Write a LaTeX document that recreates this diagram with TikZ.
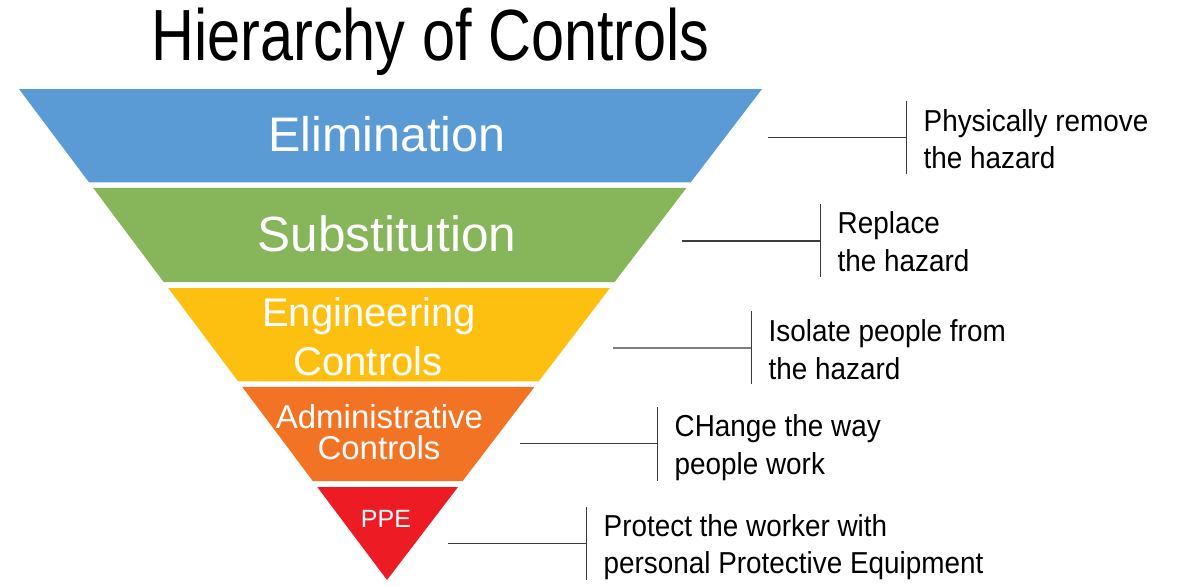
\documentclass[tikz,border=0pt]{standalone}
\usepackage{fontspec}
\setmainfont{Liberation Sans}
\newfontfamily\narrowfont[FakeStretch=0.92]{Liberation Sans}
\newfontfamily\titlefont[FakeStretch=0.82]{Liberation Sans}
\usetikzlibrary{calc}
\definecolor{elimblue}{HTML}{5B9BD5}
\definecolor{substgreen}{HTML}{87B55A}
\definecolor{engyellow}{HTML}{FDC011}
\definecolor{admorange}{HTML}{F37324}
\definecolor{ppered}{HTML}{ED1C24}
\definecolor{linegray}{HTML}{3C3C3C}
\definecolor{lightline}{HTML}{7F7F7F}
\newcommand\drawband[3]{%
  \fill[#1] ($(tl)!#2!(ap)$) -- ($(tr)!#2!(ap)$) -- ($(tr)!#3!(ap)$) -- ($(tl)!#3!(ap)$) -- cycle;}
\begin{document}
\begin{tikzpicture}[x=1pt,y=-1pt,
  bandtext/.style={text=white, inner sep=0, anchor=base},
  desc/.style={inner sep=0, anchor=base west, font=\narrowfont\fontsize{30.3}{36}\selectfont},
  leader/.style={draw=linegray, line width=1.3pt}]
\useasboundingbox (0,0) rectangle (1185,586);
\coordinate (tl) at (19,89);
\coordinate (tr) at (762,89);
\coordinate (ap) at (387,580);
% bands
\drawband{elimblue}{0}{0.1904}
\drawband{substgreen}{0.2016}{0.3931}
\drawband{engyellow}{0.4053}{0.5957}
\drawband{admorange}{0.6069}{0.7984}
\fill[ppered] ($(tl)!0.8106!(ap)$) -- ($(tr)!0.8106!(ap)$) -- (ap) -- cycle;
% title
\node[anchor=base west, inner sep=0, font=\titlefont\fontsize{72.5}{80}\selectfont] (title) at (151,60.7) {Hierarchy of Controls};
% band labels
\node[bandtext, font=\fontsize{48.5}{58}\selectfont] (elim) at (387,151.7) {Elimination};
\node[bandtext, font=\fontsize{49.5}{58}\selectfont] (subst) at (387,251.7) {Substitution};
\node[bandtext, font=\fontsize{40}{48}\selectfont] (eng1) at (369,326.7) {Engineering};
\node[bandtext, font=\fontsize{40}{48}\selectfont] (eng2) at (368,375) {Controls};
\node[bandtext, font=\fontsize{33}{40}\selectfont] (adm1) at (379.5,428.3) {Administrative};
\node[bandtext, font=\fontsize{33}{40}\selectfont] (adm2) at (379,459) {Controls};
\node[bandtext, font=\fontsize{25}{30}\selectfont] (ppe) at (386,527) {PPE};
% leaders
\coordinate (h1) at (768,137.3);   \coordinate (j1) at (906.5,137.3);
\coordinate (t1) at (906.5,101);   \coordinate (b1) at (906.5,174);
\coordinate (h2) at (682,241);     \coordinate (j2) at (820.5,241);
\coordinate (t2) at (820.5,204);   \coordinate (b2) at (820.5,277);
\coordinate (h3) at (613,347.7);   \coordinate (j3) at (751.5,347.7);
\coordinate (t3) at (751.5,311);   \coordinate (b3) at (751.5,384);
\coordinate (h4) at (520,443.3);   \coordinate (j4) at (657.3,443.3);
\coordinate (t4) at (657.3,407);   \coordinate (b4) at (657.3,480.5);
\coordinate (h5) at (448,543.3);   \coordinate (j5) at (586.5,543.3);
\coordinate (t5) at (586.5,507);   \coordinate (b5) at (586.5,580);
\draw[leader] (h1) -- (j1); \draw[leader] (t1) -- (b1);
\draw[leader] (h2) -- (j2); \draw[leader] (t2) -- (b2);
\draw[leader, draw=lightline, line width=2pt] (h3) -- (j3); \draw[leader] (t3) -- (b3);
\draw[leader] (h4) -- (j4); \draw[leader] (t4) -- (b4);
\draw[leader] (h5) -- (j5); \draw[leader] (t5) -- (b5);
% descriptions
\node[desc] (d1a) at (923.5,131.5) {Physically remove};
\node[desc] (d1b) at (923.5,168) {the hazard};
\node[desc] (d2a) at (837.5,233) {Replace};
\node[desc] (d2b) at (837.5,271.5) {the hazard};
\node[desc] (d3a) at (768.5,341.5) {Isolate people from};
\node[desc] (d3b) at (768.5,379) {the hazard};
\node[desc] (d4a) at (674.5,436.5) {CHange the way};
\node[desc] (d4b) at (674.5,474) {people work};
\node[desc] (d5a) at (603.5,536.7) {Protect the worker with};
\node[desc] (d5b) at (603.5,573.5) {personal Protective Equipment};
\end{tikzpicture}
\end{document}
